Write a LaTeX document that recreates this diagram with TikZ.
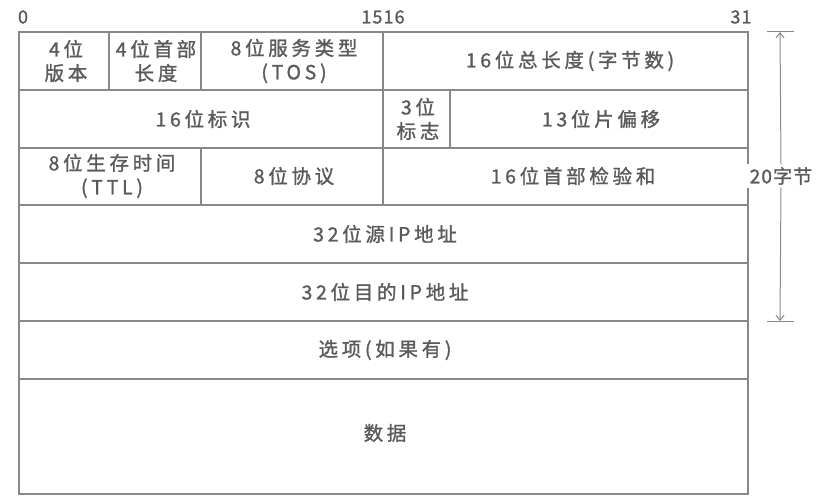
\documentclass[tikz,border=0pt]{standalone}
\usepackage{fontspec}
\setmainfont{Noto Sans CJK SC}[LetterSpace=19, FakeBold=1.2]
\newfontfamily\tightfont{Noto Sans CJK SC}[LetterSpace=6, FakeBold=1.2]
\usetikzlibrary{arrows.meta}
\definecolor{ln}{HTML}{888888}
\definecolor{tx}{HTML}{5A5A5A}
\tikzset{
  grid/.style={draw=ln, line width=1.6pt},
  lbl/.style={text=tx, font=\fontsize{19.5}{24}\selectfont, align=center, inner sep=0pt},
  bit/.style={text=tx, font=\tightfont\fontsize{18}{20}\selectfont, inner sep=0pt},
  dim/.style={draw=ln, line width=1pt},
}
\begin{document}
\begin{tikzpicture}[x=1pt,y=-1pt]
\useasboundingbox (0,0) rectangle (823,500);
% grid
\draw[grid] (19,32) rectangle (748,494);
\foreach \y in {90,148,205,263,321,379} \draw[grid] (19,\y) -- (748,\y);
\draw[grid] (109,32) -- (109,90);
\draw[grid] (201,32) -- (201,90);
\draw[grid] (383,32) -- (383,205);
\draw[grid] (450,90) -- (450,148);
\draw[grid] (201,148) -- (201,205);
% bit labels
\node[bit] (b0) at (23,17) {0};
\node[bit] (b15) at (383,17) {1516};
\node[bit] (b31) at (741,17) {31};
% row 1
\node[lbl] (ver) at (66,61) {4位\\版本};
\node[lbl] (ihl) at (156,61) {4位首部\\长度};
\node[lbl] (tos) at (294,61) {8位服务类型\\(TOS)};
\node[lbl] (len) at (570,61) {16位总长度(字节数)};
% row 2
\node[lbl] (id) at (203,119) {16位标识};
\node[lbl] (flg) at (418,119) {3位\\标志};
\node[lbl] (off) at (601,119) {13位片偏移};
% row 3
\node[lbl] (ttl) at (112,176) {8位生存时间\\(TTL)};
\node[lbl] (pro) at (294,176) {8位协议};
\node[lbl] (chk) at (573,176) {16位首部检验和};
% rows 4-7
\node[lbl] (src) at (385,234) {32位源IP地址};
\node[lbl] (dst) at (385,292) {32位目的IP地址};
\node[lbl] (opt) at (385,350) {选项(如果有)};
\node[lbl] (dat) at (385,433) {数据};
% dimension
\coordinate (tt) at (780,32);
\coordinate (tb) at (780,321);
\draw[dim] (767,32) -- (794,32);
\draw[dim] (767,321) -- (794,321);
\node[lbl, font=\tightfont\fontsize{19}{24}\selectfont, fill=white, inner sep=3pt] (sz) at (781,176) {20字节};
\draw[dim, -{Straight Barb[length=5pt,width=8pt]}] (sz.north) -- (tt);
\draw[dim, -{Straight Barb[length=5pt,width=8pt]}] (sz.south) -- (tb);
\end{tikzpicture}
\end{document}
